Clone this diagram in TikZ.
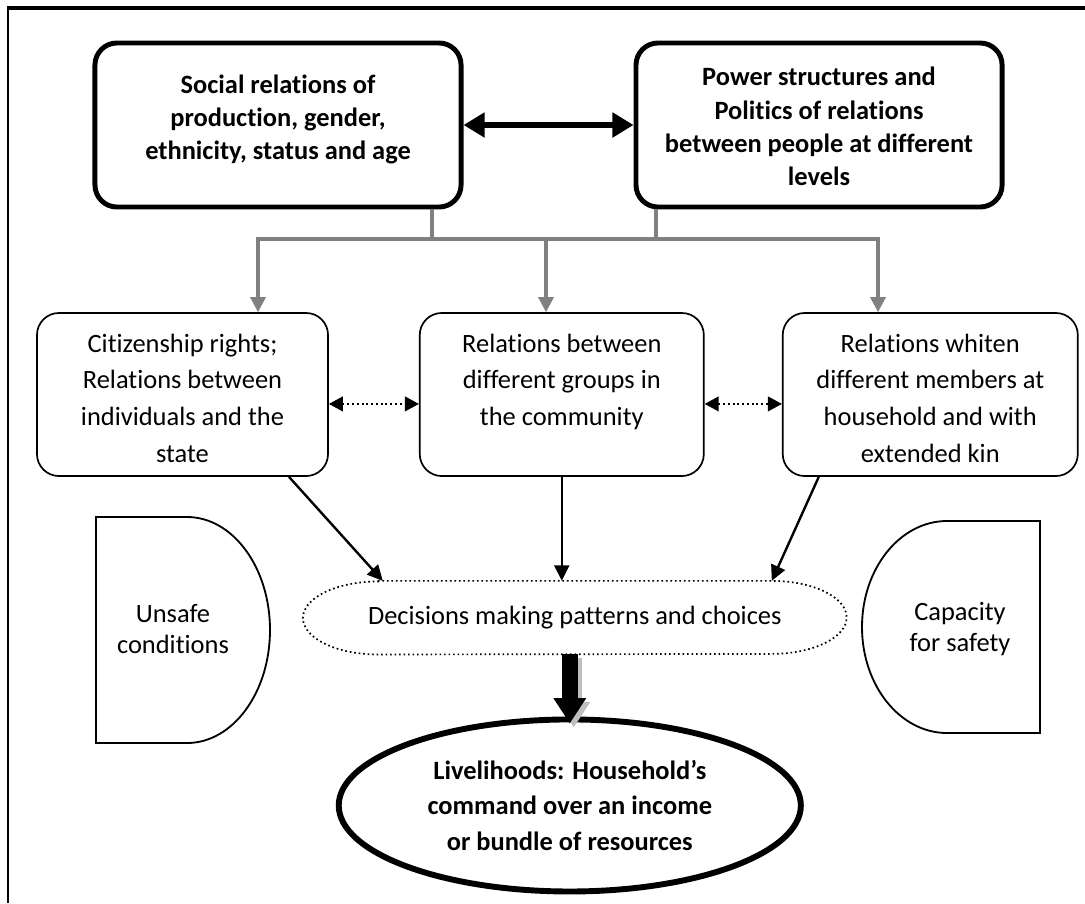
\documentclass[tikz,border=0pt]{standalone}
\usepackage{fontspec}
\setmainfont{Carlito}[Ligatures={TeX,NoCommon}]
\usepackage{tikz}
\usetikzlibrary{arrows.meta,positioning,calc,shapes.geometric}
\newcommand{\toplines}[2]{\parbox[c][#1][t]{8.7cm}{\centering #2}}
\newcommand{\midlines}[2]{\parbox[c][#1][t]{6.9cm}{\centering #2}}

\begin{document}
\begin{tikzpicture}[x=0.025cm, y=0.025cm, every node/.style={inner sep=0pt},
  headbox/.style={draw, line width=3.5pt, rounded corners=0.55cm, minimum width=9.15cm,
    minimum height=4.1cm, font=\fontsize{18.8pt}{23.6pt}\selectfont\bfseries},
  relbox/.style={draw, line width=1.2pt, rounded corners=0.55cm, minimum height=4.075cm,
    font=\fontsize{18.8pt}{26pt}\selectfont},
  sidetext/.style={align=center, font=\fontsize{18.8pt}{22.7pt}\selectfont},
  feed/.style={line width=2.3pt, black!50},
  link/.style={line width=1.4pt, dotted,
    {Triangle[length=10pt,width=10.5pt]}-{Triangle[length=10pt,width=10.5pt]}},
  flow/.style={line width=1.7pt, -{Triangle[length=11pt,width=10.5pt]}},
  side/.style={line width=1.3pt}]
  \useasboundingbox (0,0) rectangle (1085,-903);
  % frame
  \draw[line width=1.5pt] (8,-903) -- (8,-8);
  \draw[line width=2.2pt] (7,-8) -- (1085,-8);

  % top level
  \node (social) [headbox] at (278,-125)
    {\toplines{2.5cm}{Social relations of\\ production, gender,\\ ethnicity, status and age}};
  \node (power) [headbox, right=4.25cm of social]
    {\toplines{2.6cm}{\vspace*{-4pt}Power structures and\\ Politics of relations\\ between people at different\\ levels}};
  \draw[line width=4.5pt, {Triangle[length=15pt,width=17pt]}-{Triangle[length=15pt,width=17pt]}]
    (social.east) -- (power.west);

  % relations
  \node (citizen) [relbox, minimum width=7.275cm] at (182.5,-394.5)
    {\midlines{3.025cm}{Citizenship rights;\\ Relations between\\ individuals and the\\ state}};
  \node (groups) [relbox, minimum width=7.1cm, right=2.25cm of citizen]
    {\midlines{3.025cm}{Relations between\\ different groups in\\ the community}};
  \node (kin) [relbox, minimum width=7.375cm, right=1.93cm of groups]
    {\midlines{3.025cm}{Relations whiten\\ different members at\\ household and with\\ extended kin}};
  \draw[link] ([yshift=-6.7pt]citizen.east) -- ([yshift=-6.7pt]groups.west);
  \draw[link] ([yshift=-6.7pt]groups.east) -- ([yshift=-6.7pt]kin.west);

  % gray feeds
  \coordinate (socialdrop) at (432,-239);
  \coordinate (powerdrop) at (656,-239);
  \coordinate (busleft) at (258,-239);
  \coordinate (busmid) at (546,-239);
  \coordinate (busright) at (878,-239);
  \draw[feed] (social.south -| socialdrop) -- (socialdrop);
  \draw[feed] (power.south -| powerdrop) -- (powerdrop);
  \draw[feed, {Triangle[length=10.6pt,width=10.6pt]}-{Triangle[length=10.6pt,width=10.6pt]}]
    (busleft |- citizen.north) -- (busleft) -- (busright) -- (busright |- kin.north);
  \draw[feed, -{Triangle[length=10.6pt,width=10.6pt]}] (busmid) -- (busmid |- groups.north);

  % decisions
  \node (decision) [below=2.6cm of groups, xshift=0.325cm, minimum width=13.575cm,
    minimum height=1.825cm, font=\fontsize{18.8pt}{22pt}\selectfont]
    {Decisions making patterns and choices};
  \draw[dotted, line width=1.2pt] ($(decision.north west)+(75,0)$) -- ($(decision.north east)+(-75,0)$)
    arc[start angle=90, end angle=-90, x radius=75, y radius=36.5]
    -- ($(decision.south west)+(75,0)$)
    arc[start angle=270, end angle=90, x radius=75, y radius=36.5] -- cycle;
  \draw[flow] ($(citizen.south)+(106.5,0)$) -- ($(decision.north)+(-192,0)$);
  \draw[flow] (groups.south) -- (groups.south |- decision.north);
  \draw[flow] ($(kin.south)+(-111.5,0)$) -- ($(decision.north)+(197,0)$);

  % sides
  \node (unsafe) [sidetext] at (173,-629) {Unsafe\\ conditions};
  \draw[side] (96,-517) -- (187,-517) arc[start angle=90, end angle=-90, x radius=83, y radius=113]
    -- (96,-743) -- cycle;
  \node (capacity) [sidetext] at (960,-629) {Capacity\\ for safety};
  \draw[side] (1040,-521) -- (947,-521) arc[start angle=90, end angle=270, x radius=85, y radius=106]
    -- (1040,-733) -- cycle;

  % livelihoods
  \node (livelihood) [draw, ellipse, line width=4.2pt, minimum width=11.55cm, minimum height=4.3cm,
    align=center, font=\fontsize{18.8pt}{25pt}\selectfont\bfseries,
    below=1.55cm of decision, xshift=-0.125cm]
    {Livelihoods: Household’s\\ command over an income\\ or bundle of resources};
  \draw[line width=11.3pt, black!25, -{Triangle[length=18pt,width=22pt]}]
    ($(decision.south -| livelihood.north)+(4,-4)$) -- ($(livelihood.north)+(4,-11)$);
  \draw[line width=11.3pt, -{Triangle[length=18pt,width=22pt]}]
    (decision.south -| livelihood.north) -- ($(livelihood.north)+(0,-7)$);
\end{tikzpicture}
\end{document}
